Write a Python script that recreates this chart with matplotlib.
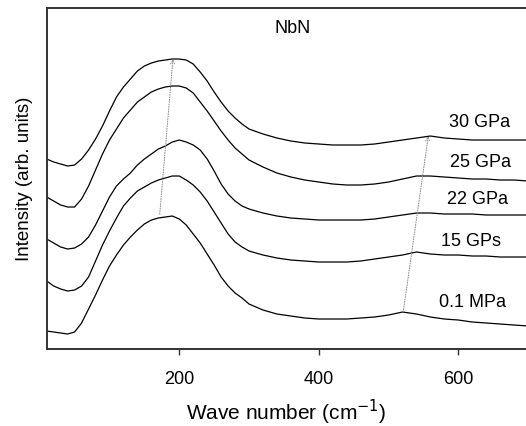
import numpy as np
import matplotlib
matplotlib.use("Agg")
import matplotlib.pyplot as plt

plt.rcParams["font.family"] = ["Liberation Sans", "DejaVu Sans"]

# wave number grid (cm^-1)
wavenumber = [10, 20, 30, 40, 50, 60, 70, 80, 90, 100, 110, 120, 130, 140, 150,
              160, 170, 180, 190, 200, 210, 220, 230, 240, 250, 260, 270, 280,
              290, 300, 320, 340, 360, 380, 400, 420, 440, 460, 480, 500, 520,
              540, 560, 580, 600, 620, 640, 660, 680, 700]

# intensities (arb. units), stacked spectra
i_01mpa = [18, 17, 16, 15, 17, 26, 40, 54, 69, 83, 94, 104, 112, 119, 125,
           129, 131, 132, 133, 130, 124, 115, 106, 95, 84, 72, 63, 56, 51, 45,
           39, 35, 33, 31, 30, 30, 30, 31, 32, 34, 37, 35, 32, 30, 29,
           27, 26, 25, 24, 23]
i_15gpa = [68, 63, 60, 58, 59, 63, 72, 88, 104, 118, 131, 143, 151, 158, 162,
           166, 169, 171, 173, 173, 169, 164, 157, 148, 137, 126, 115, 107, 102, 98,
           94, 91, 89, 88, 87, 87, 87, 88, 90, 92, 94, 97, 95, 94, 94,
           93, 93, 92, 92, 92]
i_22gpa = [110, 106, 102, 100, 101, 105, 112, 124, 138, 152, 163, 170, 176, 184, 190,
           195, 200, 203, 207, 209, 207, 204, 199, 190, 178, 165, 155, 148, 143, 140,
           136, 133, 131, 130, 129, 129, 129, 129, 130, 132, 134, 136, 136, 135, 135,
           135, 134, 134, 134, 134]
i_25gpa = [152, 148, 144, 142, 142, 150, 163, 179, 195, 209, 220, 231, 239, 247, 252,
           257, 260, 262, 263, 263, 261, 256, 247, 238, 228, 218, 209, 201, 195, 189,
           182, 176, 172, 169, 167, 165, 164, 164, 165, 167, 170, 173, 173, 172, 171,
           170, 170, 169, 169, 168]
i_30gpa = [190, 187, 185, 183, 184, 190, 199, 210, 223, 238, 252, 262, 270, 278, 283,
           286, 288, 289, 290, 290, 289, 285, 277, 268, 257, 247, 238, 231, 225, 220,
           215, 211, 208, 206, 205, 204, 204, 204, 205, 207, 209, 211, 213, 211, 210,
           209, 209, 209, 209, 209]

spectra = [i_01mpa, i_15gpa, i_22gpa, i_25gpa, i_30gpa]
labels = ["0.1 MPa", "15 GPs", "22 GPa", "25 GPa", "30 GPa"]
label_x = [621, 618, 627, 632, 630]
label_y = [48, 109, 151, 188, 228]

# peak shift guides (start -> end)
low_shift_x = [172, 191]
low_shift_y = [135, 290]
high_shift_x = [521, 557]
high_shift_y = [37, 213]

fig = plt.figure(figsize=(5.26, 4.27), dpi=100)
ax = fig.add_axes([0.0888, 0.1803, 0.9112, 0.7979])

for y in spectra:
    ax.plot(wavenumber, y, color="black", lw=0.9)

arrow = dict(arrowstyle="->", color="#888888", lw=0.7, linestyle=(0, (1, 1.5)),
             shrinkA=0, shrinkB=0, mutation_scale=7)
ax.annotate("", xy=(low_shift_x[1], low_shift_y[1]),
            xytext=(low_shift_x[0], low_shift_y[0]), arrowprops=arrow)
ax.annotate("", xy=(high_shift_x[1], high_shift_y[1]),
            xytext=(high_shift_x[0], high_shift_y[0]), arrowprops=arrow)

for lx, ly, lab in zip(label_x, label_y, labels):
    ax.text(lx, ly, lab, fontsize=13, ha="center", va="center")
ax.text(362, 322, "NbN", fontsize=13, ha="center", va="center")

ax.set_xlim(10, 697)
ax.set_ylim(0, 340.7)
ax.set_xticks([200, 400, 600])
ax.set_yticks([])
ax.tick_params(axis="x", direction="out", length=4, width=1, pad=11,
               labelsize=13, color="#333333")
ax.set_xlabel("Wave number (cm$^{-1}$)", fontsize=15, labelpad=7)
ax.set_ylabel("Intensity (arb. units)", fontsize=13.5)
ax.yaxis.set_label_coords(-0.029, 0.503)

for side in ["left", "top", "bottom"]:
    ax.spines[side].set_linewidth(1.4)
    ax.spines[side].set_color("#333333")
ax.spines["right"].set_visible(False)

fig.savefig("out.png", dpi=100)
